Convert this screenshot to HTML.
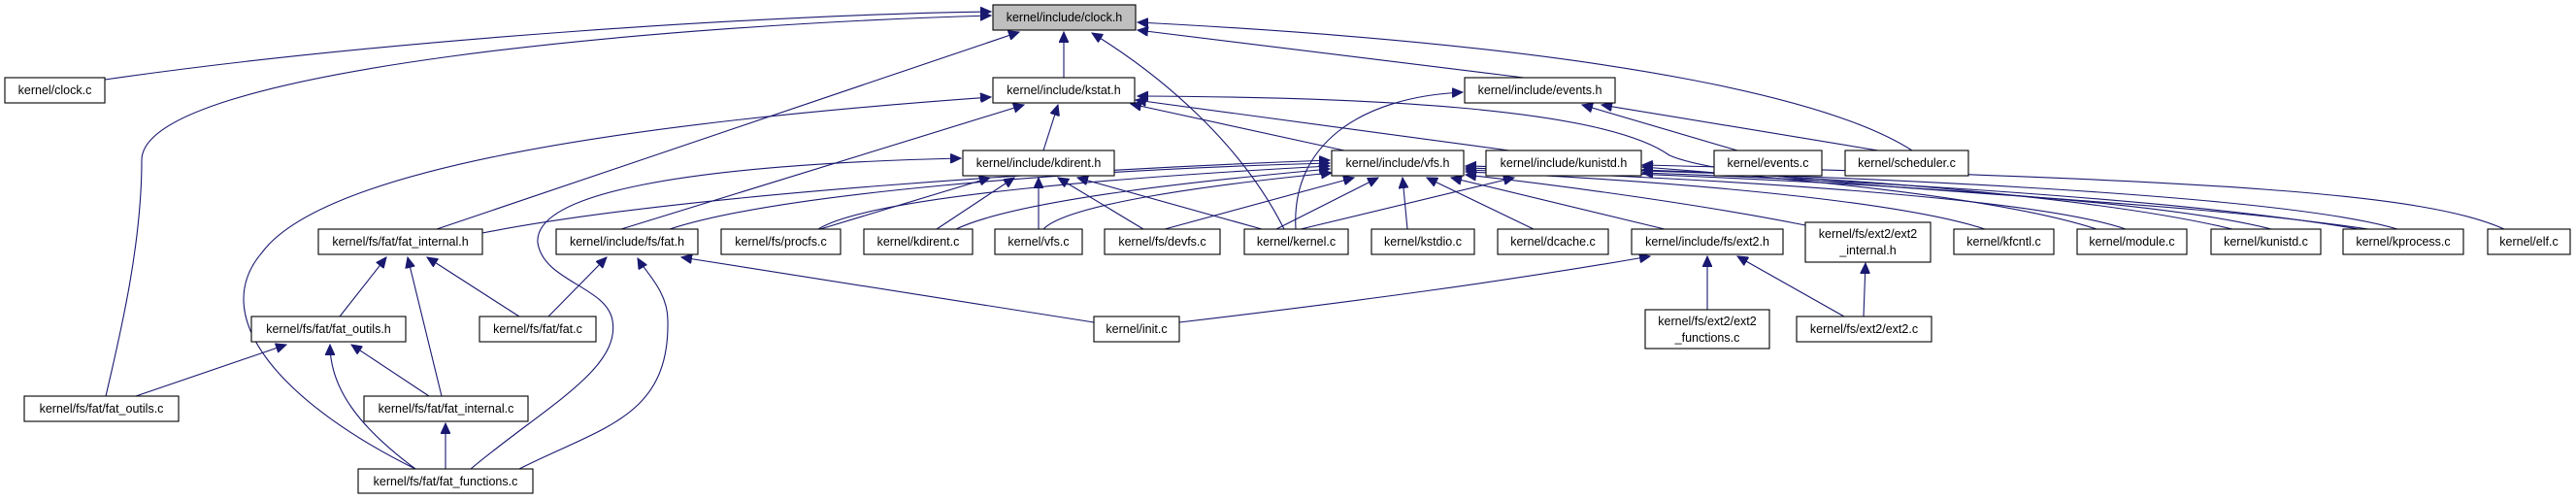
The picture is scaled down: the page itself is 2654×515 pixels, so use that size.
<!DOCTYPE html>
<html><head><meta charset="utf-8"><style>
html,body{margin:0;padding:0;background:#fff;}
svg{display:block;}
text{font-family:"Liberation Sans",sans-serif;font-size:12.5px;fill:#000;}
.n{fill:#fff;stroke:#000;stroke-width:1.1;}
.e{fill:none;stroke:#191970;stroke-width:1.1;}
</style></head><body>
<svg width="2654" height="515" viewBox="0 0 2654 515" xmlns="http://www.w3.org/2000/svg">
<defs><marker id="a" markerUnits="userSpaceOnUse" markerWidth="12" markerHeight="10" refX="11" refY="5" orient="auto"><path d="M0,0 L11,5 L0,10 z" fill="#191970" stroke="#191970"/></marker></defs>
<g marker-end="url(#a)">
<path class="e" d="M108,82 C400,40 800,15 1021,12"/>
<path class="e" d="M109,408 C125,340 146,250 146,165 C146,70 700,25 1021,16"/>
<path class="e" d="M1096,80 L1096,33"/>
<path class="e" d="M450,236 L1050,33"/>
<path class="e" d="M1323,236 C1280,150 1200,80 1125,34"/>
<path class="e" d="M1570,80 L1172,31"/>
<path class="e" d="M1970,155 C1900,110 1700,50 1172,23"/>
<path class="e" d="M428,483 C300,420 210,330 270,260 C330,180 600,130 1021,100"/>
<path class="e" d="M640,236 L1055,108"/>
<path class="e" d="M1075,155 L1090,108"/>
<path class="e" d="M1385,155 L1165,107"/>
<path class="e" d="M1555,155 L1170,103"/>
<path class="e" d="M2440,236 C2200,200 1800,195 1720,160 C1650,110 1400,100 1172,99"/>
<path class="e" d="M1335,236 C1330,150 1400,100 1507,95"/>
<path class="e" d="M1790,155 L1630,108"/>
<path class="e" d="M1935,155 L1650,108"/>
<path class="e" d="M485,483 C560,420 640,380 631,330 C625,295 560,290 554,250 C550,200 700,170 990,163"/>
<path class="e" d="M845,236 L1020,183"/>
<path class="e" d="M965,236 L1045,183"/>
<path class="e" d="M1070,236 L1070,183"/>
<path class="e" d="M1178,236 L1090,183"/>
<path class="e" d="M1300,236 L1110,183"/>
<path class="e" d="M497,240 C700,200 1100,175 1370,165"/>
<path class="e" d="M690,236 C800,200 1100,175 1370,168"/>
<path class="e" d="M843,236 C900,200 1200,180 1370,171"/>
<path class="e" d="M985,236 C1050,205 1250,185 1370,174"/>
<path class="e" d="M1075,236 C1100,210 1250,190 1372,178"/>
<path class="e" d="M1200,236 L1395,183"/>
<path class="e" d="M1315,236 L1420,183"/>
<path class="e" d="M1450,236 L1445,183"/>
<path class="e" d="M1580,236 L1470,183"/>
<path class="e" d="M1715,236 L1495,183"/>
<path class="e" d="M1860,232 C1750,210 1600,190 1510,180"/>
<path class="e" d="M2045,236 C1950,205 1700,185 1510,177"/>
<path class="e" d="M2190,236 C2100,205 1800,185 1510,175"/>
<path class="e" d="M2340,236 C2200,200 1800,182 1510,173"/>
<path class="e" d="M2470,236 C2350,200 1900,180 1510,171"/>
<path class="e" d="M2580,236 C2500,200 2300,185 1692,170"/>
<path class="e" d="M1340,236 L1560,183"/>
<path class="e" d="M2160,236 C2050,200 1800,180 1692,172"/>
<path class="e" d="M2300,236 C2150,200 1850,180 1692,175"/>
<path class="e" d="M2430,236 C2250,205 1900,185 1692,178"/>
<path class="e" d="M350,326 L398,265"/>
<path class="e" d="M455,408 L420,265"/>
<path class="e" d="M535,326 L440,265"/>
<path class="e" d="M565,326 L625,265"/>
<path class="e" d="M535,483 C620,440 690,430 688,330 C688,300 665,280 657,266"/>
<path class="e" d="M1127,332 L702,265"/>
<path class="e" d="M140,408 L295,355"/>
<path class="e" d="M442,408 L362,355"/>
<path class="e" d="M428,483 C370,440 340,400 340,355"/>
<path class="e" d="M459,483 L459,436"/>
<path class="e" d="M1215,332 C1400,310 1550,290 1700,264"/>
<path class="e" d="M1759,319 L1759,264"/>
<path class="e" d="M1900,326 L1790,264"/>
<path class="e" d="M1920,326 L1922,271"/>
</g>
<rect x="1023" y="5" width="147" height="26" fill="#bfbfbf" stroke="#000" stroke-width="1.1"/><text x="1096.5" y="22" text-anchor="middle">kernel/include/clock.h</text>
<g text-anchor="middle">
<rect class="n" x="5" y="80" width="103" height="26"/><text x="56.5" y="97">kernel/clock.c</text>
<rect class="n" x="1023" y="80" width="146" height="26"/><text x="1096" y="97">kernel/include/kstat.h</text>
<rect class="n" x="1509" y="80" width="155" height="26"/><text x="1586.5" y="97">kernel/include/events.h</text>
<rect class="n" x="992" y="155" width="156" height="26"/><text x="1070" y="172">kernel/include/kdirent.h</text>
<rect class="n" x="1372" y="155" width="136" height="26"/><text x="1440" y="172">kernel/include/vfs.h</text>
<rect class="n" x="1531" y="155" width="160" height="26"/><text x="1611" y="172">kernel/include/kunistd.h</text>
<rect class="n" x="1766" y="155" width="111" height="26"/><text x="1821.5" y="172">kernel/events.c</text>
<rect class="n" x="1901" y="155" width="127" height="26"/><text x="1964.5" y="172">kernel/scheduler.c</text>
<rect class="n" x="328" y="236" width="169" height="26"/><text x="412.5" y="253">kernel/fs/fat/fat_internal.h</text>
<rect class="n" x="573" y="236" width="146" height="26"/><text x="646" y="253">kernel/include/fs/fat.h</text>
<rect class="n" x="743" y="236" width="123" height="26"/><text x="804.5" y="253">kernel/fs/procfs.c</text>
<rect class="n" x="890" y="236" width="112" height="26"/><text x="946" y="253">kernel/kdirent.c</text>
<rect class="n" x="1025" y="236" width="90" height="26"/><text x="1070" y="253">kernel/vfs.c</text>
<rect class="n" x="1138" y="236" width="119" height="26"/><text x="1197.5" y="253">kernel/fs/devfs.c</text>
<rect class="n" x="1282" y="236" width="107" height="26"/><text x="1335.5" y="253">kernel/kernel.c</text>
<rect class="n" x="1413" y="236" width="106" height="26"/><text x="1466" y="253">kernel/kstdio.c</text>
<rect class="n" x="1543" y="236" width="114" height="26"/><text x="1600" y="253">kernel/dcache.c</text>
<rect class="n" x="1681" y="236" width="156" height="26"/><text x="1759" y="253">kernel/include/fs/ext2.h</text>
<rect class="n" x="1860" y="229" width="129" height="41"/><text x="1924.5" y="245">kernel/fs/ext2/ext2</text><text x="1924.5" y="262">_internal.h</text>
<rect class="n" x="2013" y="236" width="103" height="26"/><text x="2064.5" y="253">kernel/kfcntl.c</text>
<rect class="n" x="2140" y="236" width="113" height="26"/><text x="2196.5" y="253">kernel/module.c</text>
<rect class="n" x="2278" y="236" width="113" height="26"/><text x="2334.5" y="253">kernel/kunistd.c</text>
<rect class="n" x="2414" y="236" width="124" height="26"/><text x="2476" y="253">kernel/kprocess.c</text>
<rect class="n" x="2563" y="236" width="85" height="26"/><text x="2605.5" y="253">kernel/elf.c</text>
<rect class="n" x="259" y="326" width="159" height="26"/><text x="338.5" y="343">kernel/fs/fat/fat_outils.h</text>
<rect class="n" x="494" y="326" width="120" height="26"/><text x="554" y="343">kernel/fs/fat/fat.c</text>
<rect class="n" x="1127" y="326" width="88" height="26"/><text x="1171" y="343">kernel/init.c</text>
<rect class="n" x="1695" y="319" width="128" height="40"/><text x="1759" y="335">kernel/fs/ext2/ext2</text><text x="1759" y="352">_functions.c</text>
<rect class="n" x="1851" y="326" width="139" height="26"/><text x="1920.5" y="343">kernel/fs/ext2/ext2.c</text>
<rect class="n" x="25" y="408" width="159" height="26"/><text x="104.5" y="425">kernel/fs/fat/fat_outils.c</text>
<rect class="n" x="375" y="408" width="169" height="26"/><text x="459.5" y="425">kernel/fs/fat/fat_internal.c</text>
<rect class="n" x="369" y="483" width="180" height="25"/><text x="459" y="500">kernel/fs/fat/fat_functions.c</text>
</g>
</svg>
</body></html>
